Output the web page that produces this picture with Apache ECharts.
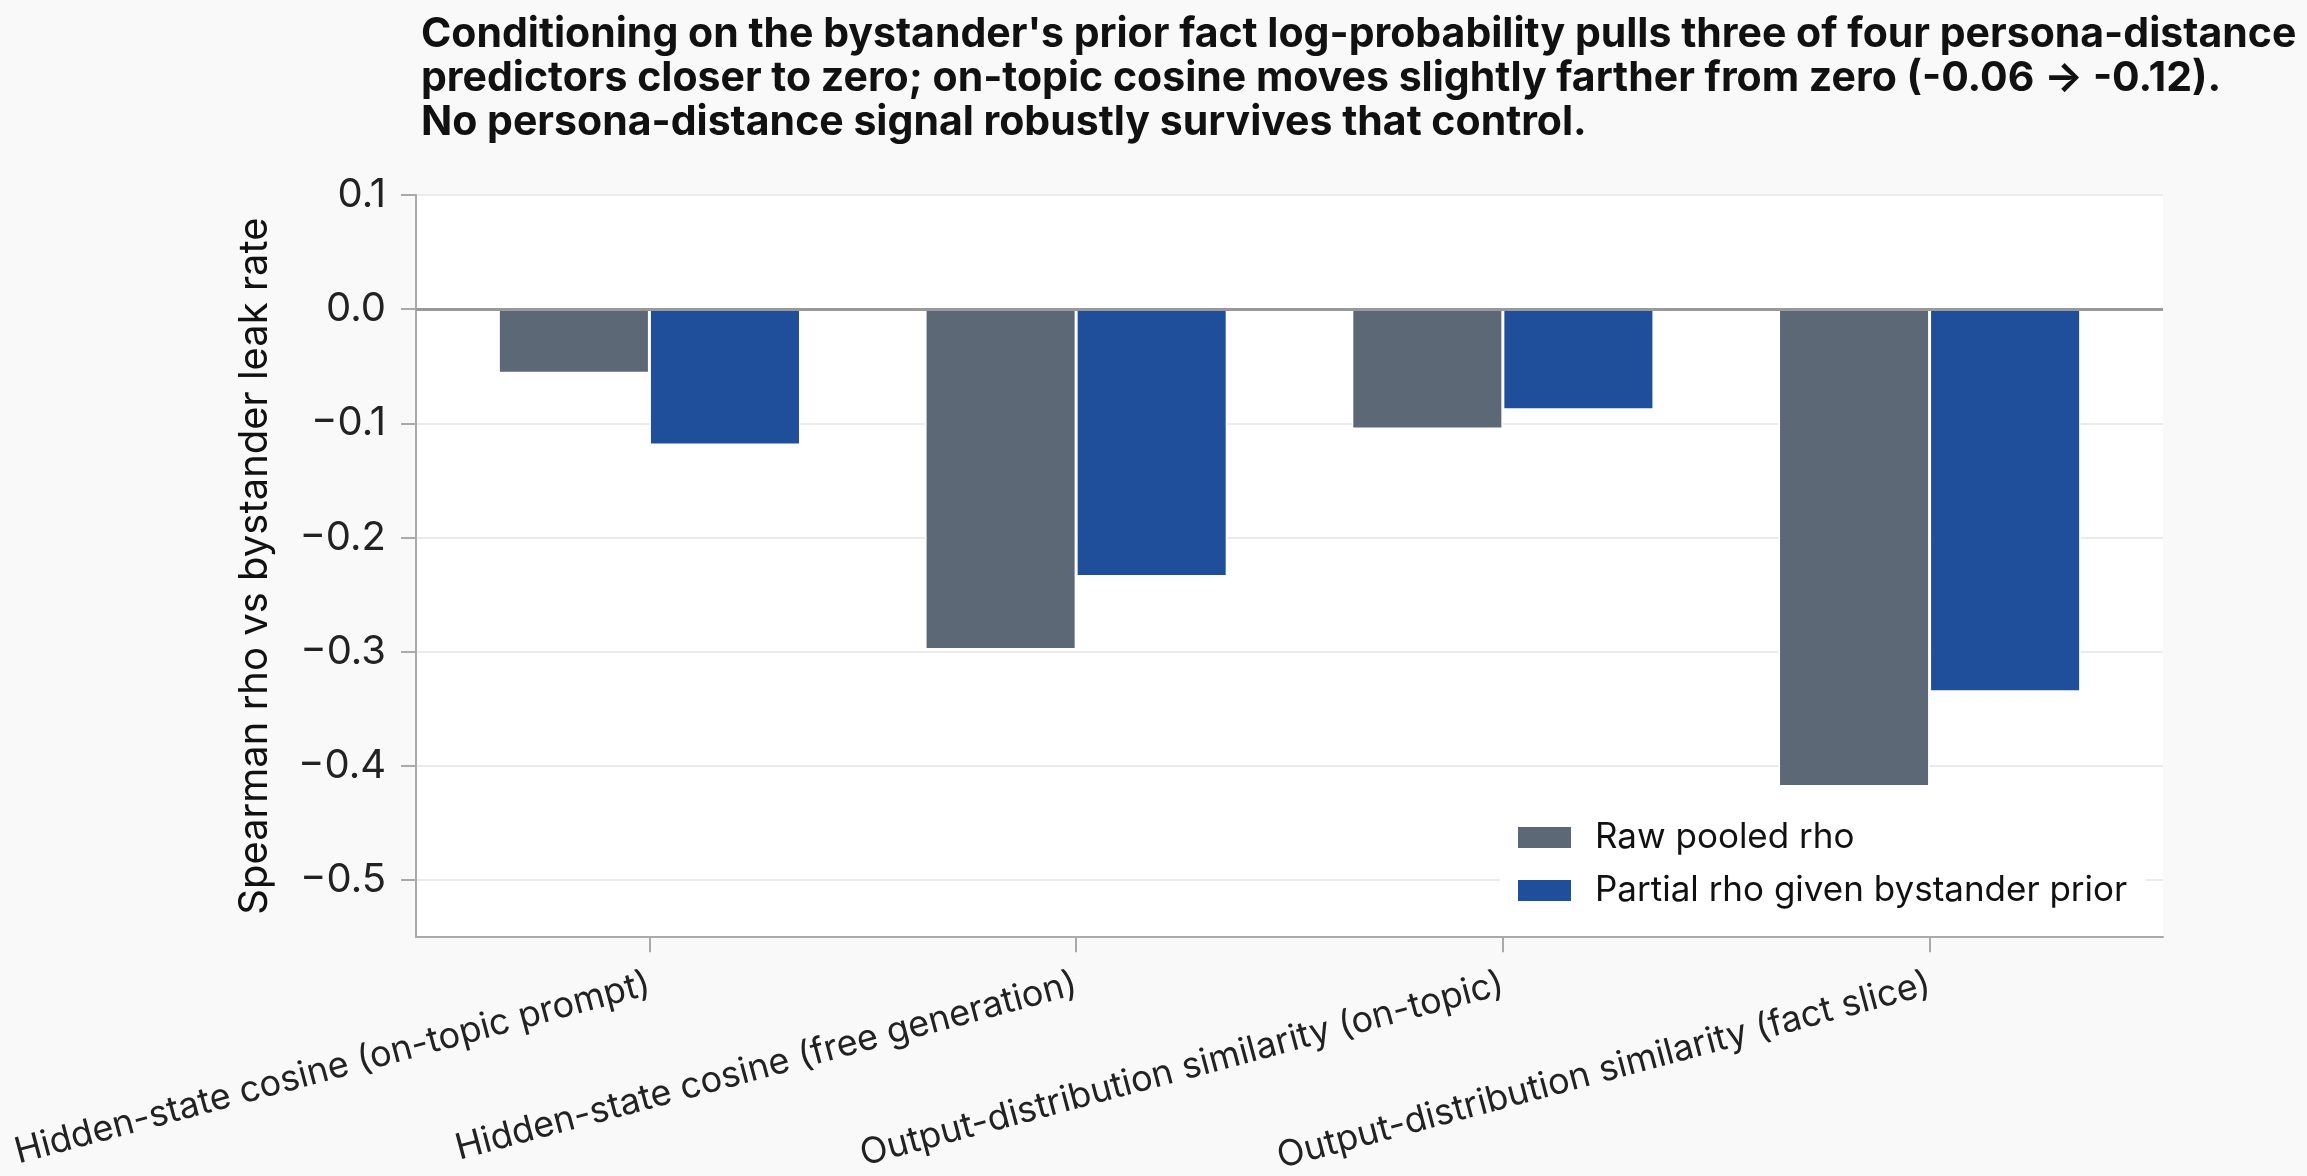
<!DOCTYPE html>
<html><head><meta charset="utf-8">
<script src="https://cdn.jsdelivr.net/npm/echarts@6/dist/echarts.min.js"></script>
<style>html,body{margin:0;padding:0;background:#f9f9f9;}#c{width:2307px;height:1176px;}</style>
</head><body><div id="c"></div>
<script>
const categories = [
  'Hidden-state cosine (on-topic prompt)',
  'Hidden-state cosine (free generation)',
  'Output-distribution similarity (on-topic)',
  'Output-distribution similarity (fact slice)'
];
const seriesNames = ['Raw pooled rho', 'Partial rho given bystander prior'];
const rawRho = [-0.056, -0.298, -0.105, -0.418];
const partialRho = [-0.119, -0.234, -0.088, -0.335];
const yTicks = [-0.5, -0.4, -0.3, -0.2, -0.1, 0.0, 0.1];
const xTicks = [0, 1, 2, 3];
const titleLines = [
  "Conditioning on the bystander's prior fact log-probability pulls three of four persona-distance",
  "predictors closer to zero; on-topic cosine moves slightly farther from zero (-0.06 \u2192 -0.12).",
  "No persona-distance signal robustly survives that control."
];
const yAxisName = 'Spearman rho vs bystander leak rate';

const FONT = 'Inter, "Noto Sans", sans-serif';
const chart = echarts.init(document.getElementById('c'), null, {renderer: 'canvas'});
const fmtY = v => (v < -1e-9 ? '\u2212' + Math.abs(v).toFixed(1) : Math.abs(v).toFixed(1));

chart.setOption({
  animation: false,
  backgroundColor: '#f9f9f9',
  title: {
    text: titleLines.join('\n'),
    left: 416, top: 8,
    textStyle: {fontFamily: FONT, fontSize: 41, fontWeight: 700, lineHeight: 44, color: '#111'}
  },
  grid: {left: 416, right: 144, top: 195, bottom: 237.5, show: true, backgroundColor: '#ffffff', borderWidth: 0, containLabel: false},
  legend: {
    data: seriesNames,
    orient: 'vertical',
    left: 1500, top: 806,
    icon: 'rect',
    itemWidth: 55, itemHeight: 23, itemGap: 18,
    padding: [14, 18, 14, 16],
    backgroundColor: '#ffffff',
    textStyle: {fontFamily: FONT, fontSize: 35, lineHeight: 24, color: '#111', padding: [0, 0, 0, 18]}
  },
  xAxis: {
    type: 'value',
    min: -0.547, max: 3.547,
    axisLine: {onZero: false, lineStyle: {color: '#aaaaaa', width: 2}},
    axisTick: {customValues: xTicks, length: 15, lineStyle: {color: '#aaaaaa', width: 2}},
    axisLabel: {customValues: xTicks, formatter: v => categories[Math.round(v)], rotate: 15, margin: 46,
      fontFamily: FONT, fontSize: 36, color: '#222'},
    splitLine: {show: false}
  },
  yAxis: {
    type: 'value',
    min: -0.55, max: 0.1,
    name: yAxisName, nameLocation: 'middle', nameGap: 141,
    nameTextStyle: {fontFamily: FONT, fontSize: 40, color: '#111'},
    axisLine: {show: true, onZero: false, lineStyle: {color: '#aaaaaa', width: 2}},
    axisTick: {show: true, customValues: yTicks, length: 15, lineStyle: {color: '#aaaaaa', width: 2}},
    axisLabel: {customValues: yTicks, formatter: fmtY, margin: 30, fontFamily: FONT, fontSize: 40, color: '#222'},
    splitLine: {show: true, lineStyle: {color: '#ebebeb', width: 2}}
  },
  series: [
    {
      name: seriesNames[0], type: 'bar',
      data: rawRho.map((v, i) => [xTicks[i], v]),
      barWidth: '35.4%', barGap: '0%',
      itemStyle: {color: '#5c6875', borderColor: '#ffffff', borderWidth: 1.5},
      markLine: {
        silent: true, symbol: 'none', label: {show: false},
        lineStyle: {color: '#999999', width: 3, type: 'solid'},
        data: [{yAxis: 0}]
      }
    },
    {
      name: seriesNames[1], type: 'bar',
      data: partialRho.map((v, i) => [xTicks[i], v]),
      barWidth: '35.4%', barGap: '0%',
      itemStyle: {color: '#1f4e9b', borderColor: '#ffffff', borderWidth: 1.5}
    }
  ]
});
</script></body></html>
